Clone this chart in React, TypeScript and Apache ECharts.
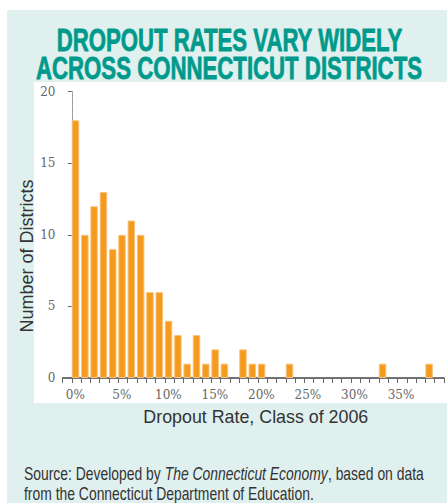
import React, { useEffect, useRef } from "react";
import * as echarts from "echarts";

// Histogram bins: lower edge of each 1-percentage-point dropout-rate bin
const binStarts = [0, 1, 2, 3, 4, 5, 6, 7, 8, 9, 10, 11, 12, 13, 14, 15, 16, 17, 18, 19, 20, 21, 22, 23, 24, 25, 26, 27, 28, 29, 30, 31, 32, 33, 34, 35, 36, 37, 38];
// Number of districts in each bin
const districtCounts = [18, 10, 12, 13, 9, 10, 11, 10, 6, 6, 4, 3, 1, 3, 1, 2, 1, 0, 2, 1, 1, 0, 0, 1, 0, 0, 0, 0, 0, 0, 0, 0, 0, 1, 0, 0, 0, 0, 1];
const yTicks = [0, 5, 10, 15, 20];
const xLabelTicks = [0, 5, 10, 15, 20, 25, 30, 35];

const titleLines = ["DROPOUT RATES VARY WIDELY", "ACROSS CONNECTICUT DISTRICTS"];
const yTitle = "Number of Districts";
const xTitle = "Dropout Rate, Class of 2006";
const sourcePre = "Source: Developed by ";
const sourceItalic = "The Connecticut Economy";
const sourcePost = ", based on data";
const sourceLine2 = "from the Connecticut Department of Education.";

function measure(text: string, font: string): number {
  const ctx = document.createElement("canvas").getContext("2d")!;
  ctx.font = font;
  return ctx.measureText(text).width;
}

export default function App() {
  const ref = useRef<HTMLDivElement>(null);
  useEffect(() => {
    if (!ref.current) return;
    const chart = echarts.init(ref.current, null, { renderer: "svg" });

    const titleFont = "bold 32px 'Liberation Sans'";
    const t1Scale = 346 / measure(titleLines[0], titleFont);
    const t2Scale = 386 / measure(titleLines[1], titleFont);
    const srcSize = 17.5;
    const srcW =
      measure(sourcePre, `${srcSize}px 'Liberation Sans'`) +
      measure(sourceItalic, `italic ${srcSize}px 'Liberation Sans'`) +
      measure(sourcePost, `${srcSize}px 'Liberation Sans'`);
    const srcScale = 400 / srcW;
    const xtScale = 225 / measure(xTitle, "17.5px 'Liberation Sans'");
    const ytScale = 153 / measure(yTitle, "17.5px 'Liberation Sans'");

    const barData = binStarts
      .map((b, i) => [b + 0.4, districtCounts[i]])
      .filter((d) => d[1] > 0);

    chart.setOption({
      animation: false,
      grid: { left: 62.5, right: 0, top: 91.7, bottom: 125, containLabel: false },
      xAxis: {
        type: "value",
        min: -1,
        max: 40,
        interval: 1,
        axisLine: { show: true, onZero: false, lineStyle: { color: "#444", width: 1.5 } },
        axisTick: { show: true, length: 5, lineStyle: { color: "#666" } },
        axisLabel: {
          color: "#666",
          fontFamily: "DejaVu Serif",
          fontSize: 12,
          margin: 11,
          padding: [0, 0, 0, 7],
          showMinLabel: true,
          showMaxLabel: true,
          formatter: (v: number) => (xLabelTicks.indexOf(v) >= 0 ? v + "%" : ""),
        },
        splitLine: { show: false },
      },
      yAxis: {
        type: "value",
        min: 0,
        max: 20,
        interval: 5,
        axisLine: { show: true, lineStyle: { color: "#888", width: 1, type: "dotted" } },
        axisTick: { show: true, length: 4, lineStyle: { color: "#666" } },
        axisLabel: {
          color: "#666",
          fontFamily: "DejaVu Serif",
          fontSize: 12,
          margin: 7,
          formatter: (v: number) => (yTicks.indexOf(v) >= 0 ? String(v) : ""),
        },
        splitLine: { show: false },
      },
      series: [
        {
          type: "bar",
          data: barData,
          barWidth: 7.5,
          itemStyle: { color: "#f49a1d", borderColor: "#f9c27a", borderWidth: 1 },
          z: 3,
        },
      ],
      graphic: {
        elements: [
          { type: "rect", z: -10, shape: { x: 7, y: 10, width: 440, height: 493 }, style: { fill: "#dff0ee" }, silent: true },
          { type: "rect", z: -9, shape: { x: 34, y: 82, width: 413, height: 321 }, style: { fill: "#ffffff" }, silent: true },
          {
            type: "text", z: 5, x: 229.5, y: 40, scaleX: t1Scale,
            style: { text: titleLines[0], font: titleFont, fill: "#009a8c", stroke: "#009a8c", lineWidth: 0.8, align: "center", verticalAlign: "middle" },
          },
          {
            type: "text", z: 5, x: 229, y: 68.3, scaleX: t2Scale,
            style: { text: titleLines[1], font: titleFont, fill: "#009a8c", stroke: "#009a8c", lineWidth: 0.8, align: "center", verticalAlign: "middle" },
          },
          {
            type: "text", z: 5, x: 27, y: 256, rotation: Math.PI / 2, scaleX: ytScale,
            style: { text: yTitle, font: "17.5px 'Liberation Sans'", fill: "#333", align: "center", verticalAlign: "middle" },
          },
          {
            type: "text", z: 5, x: 255.8, y: 416.7, scaleX: xtScale,
            style: { text: xTitle, font: "17.5px 'Liberation Sans'", fill: "#333", align: "center", verticalAlign: "middle" },
          },
          {
            type: "text", z: 5, x: 24, y: 474, scaleX: srcScale,
            style: {
              text: `{n|${sourcePre}}{i|${sourceItalic}}{n|${sourcePost}}`,
              align: "left",
              verticalAlign: "middle",
              rich: {
                n: { fontFamily: "Liberation Sans", fontSize: srcSize, fill: "#333" },
                i: { fontFamily: "Liberation Sans", fontSize: srcSize, fontStyle: "italic", fill: "#333" },
              },
            },
          },
          {
            type: "text", z: 5, x: 24, y: 493.5, scaleX: srcScale,
            style: { text: sourceLine2, font: `${srcSize}px 'Liberation Sans'`, fill: "#333", align: "left", verticalAlign: "middle" },
          },
        ],
      },
    });
    return () => chart.dispose();
  }, []);
  return (
    <div
      ref={ref}
      style={{ position: "fixed", left: 0, top: 0, width: 447, height: 503, background: "#ffffff" }}
    />
  );
}
